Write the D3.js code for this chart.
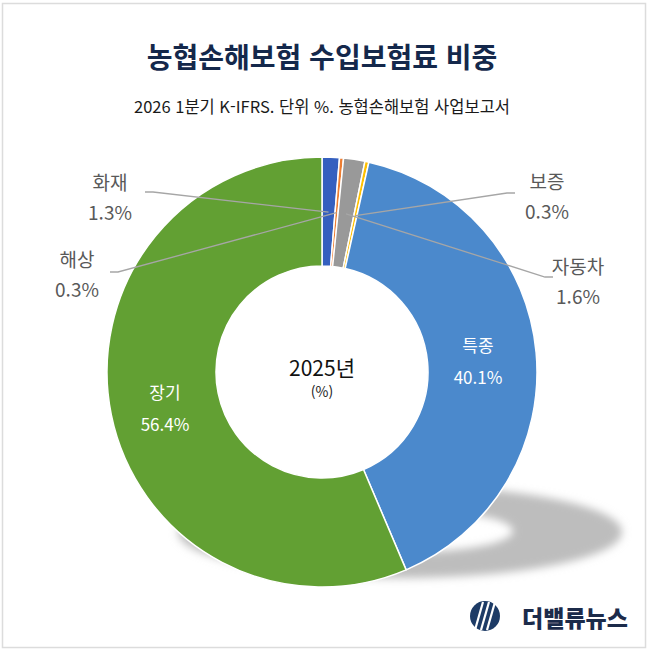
<!DOCTYPE html>
<html lang="ko">
<head>
<meta charset="utf-8">
<script src="https://d3js.org/d3.v7.min.js"></script>
<style>
  body { margin: 0; background: #fff; }
  text { font-family: "Noto Sans CJK KR", "Noto Sans", sans-serif; }
</style>
</head>
<body>
<svg id="chart"></svg>
<script>
// chart data (clockwise from 12 o'clock)
const categories = ["화재", "해상", "자동차", "보증", "특종", "장기"];
const shares = [1.3, 0.3, 1.6, 0.3, 40.1, 56.4];
const colors = ["#3560bf", "#ed7d31", "#999999", "#ffc000", "#4b89cc", "#62a033"];

const titleText = "농협손해보험 수입보험료 비중";
const subtitleText = "2026 1분기 K-IFRS. 단위 %. 농협손해보험 사업보고서";
const centerYear = "2025년";
const centerUnit = "(%)";

// label placement (outer labels with leader lines, inner labels)
const outerLabels = {
  "화재":  {x: 110, y: 181, lx: 145, ly: 192, dir: 1},
  "해상":  {x: 77,  y: 258, lx: 110, ly: 272, dir: 1},
  "보증":  {x: 547, y: 180, lx: 515, ly: 193, dir: -1},
  "자동차": {x: 578, y: 265, lx: 553, ly: 277, dir: -1}
};
const innerLabels = {
  "특종": {x: 478, y: 344},
  "장기": {x: 165, y: 391}
};

const W = 650, H = 651;
const cx = 322, cy = 372, outerR = 215, innerR = 106;

const svg = d3.select("#chart").attr("width", W).attr("height", H);

// frame
svg.append("rect")
  .attr("x", 2.5).attr("y", 3.5)
  .attr("width", 643).attr("height", 644)
  .attr("fill", "#fff")
  .attr("stroke", "#dcdcdc")
  .attr("stroke-width", 1.5);

// title
svg.append("text")
  .attr("x", cx).attr("y", 68)
  .attr("text-anchor", "middle")
  .attr("font-size", 28)
  .attr("font-weight", 700)
  .attr("fill", "#14284b")
  .text(titleText);

svg.append("text")
  .attr("x", cx).attr("y", 113)
  .attr("text-anchor", "middle")
  .attr("font-size", 16.5)
  .attr("fill", "#1a1a1a")
  .text(subtitleText);

// soft shadow under the donut
const defs = svg.append("defs");
defs.append("filter").attr("id", "blur")
  .attr("x", "-20%").attr("y", "-50%").attr("width", "140%").attr("height", "200%")
  .append("feGaussianBlur").attr("stdDeviation", 4);

const ox = 400, oy = 532, ix = 408, iy = 531;
svg.append("path")
  .attr("d",
    `M${ox - 222},${oy} a222,46 0 1,0 444,0 a222,46 0 1,0 -444,0 Z ` +
    `M${ix - 105},${iy} a105,21 0 1,1 210,0 a105,21 0 1,1 -210,0 Z`)
  .attr("fill", "#bdbdbd")
  .attr("fill-rule", "evenodd")
  .attr("filter", "url(#blur)");

// donut
const pie = d3.pie().sort(null).value(d => d.value);
const arcs = pie(categories.map((c, i) => ({name: c, value: shares[i], color: colors[i]})));
const arc = d3.arc().innerRadius(innerR).outerRadius(outerR);
const midArc = d3.arc().innerRadius(160).outerRadius(160);

const g = svg.append("g").attr("transform", `translate(${cx},${cy})`);
g.selectAll("path")
  .data(arcs)
  .join("path")
  .attr("d", arc)
  .attr("fill", d => d.data.color)
  .attr("stroke", "#fff")
  .attr("stroke-width", 1.5)
  .attr("stroke-linejoin", "round");

// leader lines + outer labels
arcs.filter(d => outerLabels[d.data.name]).forEach(d => {
  const p = outerLabels[d.data.name];
  const [mx, my] = midArc.centroid(d);
  const pts = [[p.lx, p.ly], [p.lx + 8 * p.dir, p.ly], [cx + mx, cy + my]];
  svg.append("path")
    .attr("d", d3.line()(pts))
    .attr("fill", "none")
    .attr("stroke", "#a6a6a6")
    .attr("stroke-width", 1.3);
  svg.append("text")
    .attr("x", p.x).attr("y", p.y)
    .attr("text-anchor", "middle")
    .attr("dominant-baseline", "central")
    .attr("font-size", 19)
    .attr("fill", "#595959")
    .text(d.data.name);
  svg.append("text")
    .attr("x", p.x).attr("y", p.y + 30)
    .attr("text-anchor", "middle")
    .attr("dominant-baseline", "central")
    .attr("font-size", 19)
    .attr("fill", "#595959")
    .text(d3.format(".1f")(d.data.value) + "%");
});

// inner labels
arcs.filter(d => innerLabels[d.data.name]).forEach(d => {
  const p = innerLabels[d.data.name];
  svg.append("text")
    .attr("x", p.x).attr("y", p.y)
    .attr("text-anchor", "middle")
    .attr("dominant-baseline", "central")
    .attr("font-size", 17)
    .attr("fill", "#fff")
    .text(d.data.name);
  svg.append("text")
    .attr("x", p.x).attr("y", p.y + 32)
    .attr("text-anchor", "middle")
    .attr("dominant-baseline", "central")
    .attr("font-size", 17)
    .attr("fill", "#fff")
    .text(d3.format(".1f")(d.data.value) + "%");
});

// center text
svg.append("text")
  .attr("x", cx).attr("y", cy - 5)
  .attr("text-anchor", "middle")
  .attr("dominant-baseline", "central")
  .attr("font-size", 21)
  .attr("fill", "#111")
  .text(centerYear);
svg.append("text")
  .attr("x", cx).attr("y", cy + 19)
  .attr("text-anchor", "middle")
  .attr("dominant-baseline", "central")
  .attr("font-size", 14)
  .attr("fill", "#222")
  .text(centerUnit);

// logo
const logo = svg.append("g").attr("transform", "translate(485,616)");
logo.append("circle").attr("r", 15).attr("fill", "#1d3b66");
[-6, 0, 6].forEach(o => {
  logo.append("line")
    .attr("x1", o - 4).attr("y1", 14)
    .attr("x2", o + 4).attr("y2", -14)
    .attr("stroke", "#fff").attr("stroke-width", 2.2);
});
svg.append("text")
  .attr("x", 575).attr("y", 617)
  .attr("text-anchor", "middle")
  .attr("dominant-baseline", "central")
  .attr("font-size", 23)
  .attr("font-weight", 900)
  .attr("fill", "#1c2b4a")
  .text("더밸류뉴스");
</script>
</body>
</html>
